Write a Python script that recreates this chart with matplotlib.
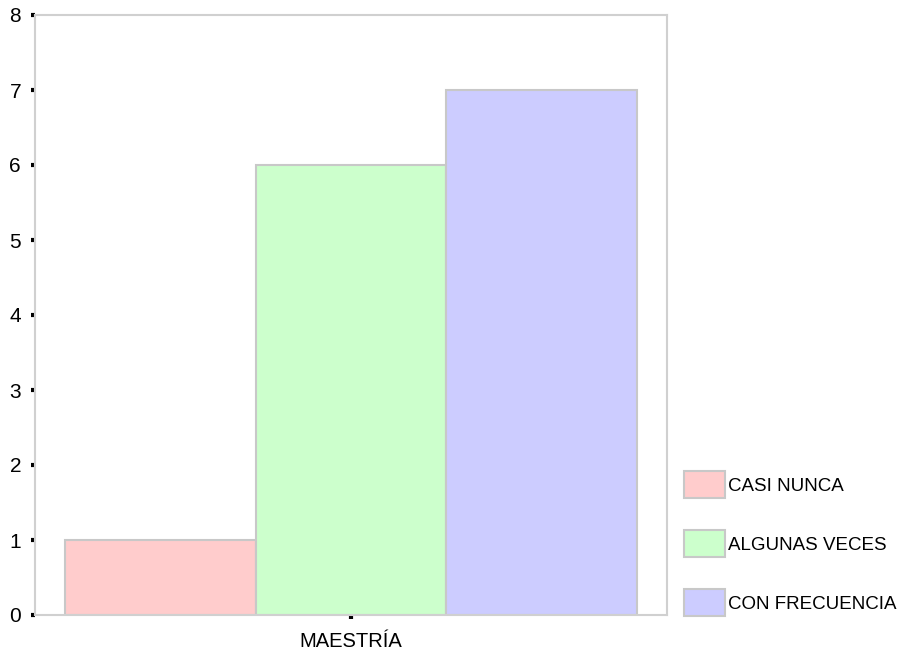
import matplotlib
matplotlib.use("Agg")
import matplotlib.pyplot as plt
from matplotlib.patches import Patch

plt.rcParams['font.family'] = ['Liberation Sans', 'DejaVu Sans']

categories = ["MAESTRÍA"]
series = ["CASI NUNCA", "ALGUNAS VECES", "CON FRECUENCIA"]
values = [1, 6, 7]
colors = ["#ffcccc", "#ccffcc", "#ccccff"]
yticks = [0, 1, 2, 3, 4, 5, 6, 7, 8]

W, H = 907, 651
fig = plt.figure(figsize=(W / 100, H / 100), dpi=100)
ax = fig.add_axes([35 / W, 1 - 615 / H, 632 / W, 600 / H])

bw = 572 / 632 / 3
for i, (s, v, c) in enumerate(zip(series, values, colors)):
    ax.bar((i - 1) * bw, v, width=bw, color=c, edgecolor="#c8c8c8",
           linewidth=1.5, label=s)

ax.set_xlim(-0.5, 0.5)
ax.set_ylim(0, 8)
ax.set_yticks(yticks)
ax.set_xticks([0])
ax.set_xticklabels(categories)
for sp in ax.spines.values():
    sp.set_color("#d0d0d0")
    sp.set_linewidth(1.5)
ax.tick_params(axis="both", direction="out", length=3, width=3, color="black")
ax.tick_params(axis="y", labelsize=15, pad=7)
ax.tick_params(axis="x", labelsize=14.5, pad=9)

handles = [Patch(facecolor=c, edgecolor="#c8c8c8", linewidth=1.5) for c in colors]
fig.legend(handles, series, loc="upper left", bbox_to_anchor=(684 / W, 1 - 471 / H),
           frameon=False, fontsize=13.5, borderpad=0, handlelength=2.19,
           handleheight=1.84, handletextpad=0.15, labelspacing=1.71, borderaxespad=0)

fig.savefig("out.png", dpi=100)
